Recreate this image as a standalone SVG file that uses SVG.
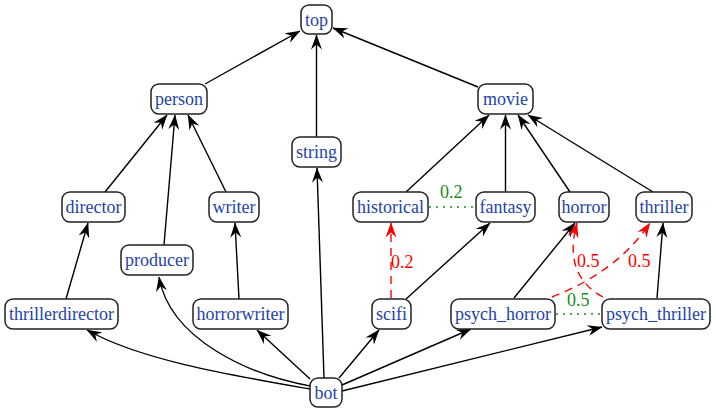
<svg xmlns="http://www.w3.org/2000/svg" width="716" height="413" viewBox="0 0 716 413">
<defs>
<style>
.n rect{fill:#fff;stroke:#222;stroke-width:1.5}
.n text{font-family:"Liberation Serif","Times New Roman",serif;font-size:18px;fill:#1f44a6;text-anchor:middle}
.e{fill:none;stroke:#000;stroke-width:1.4}
.r{fill:none;stroke:#ff0000;stroke-width:1.4;stroke-dasharray:8,6}
.g{fill:none;stroke:#228b22;stroke-width:1.4;stroke-dasharray:2,5}
.lr{font-family:"Liberation Serif","Times New Roman",serif;font-size:18px;fill:#ff0000}
.lg{font-family:"Liberation Serif","Times New Roman",serif;font-size:18px;fill:#228b22}
</style>
<marker id="a" markerUnits="userSpaceOnUse" viewBox="0 0 15 12" markerWidth="15" markerHeight="12" refX="14.5" refY="6" orient="auto"><path d="M15,6 L0,0.5 L5,6 L0,11.5 Z" fill="#000"/></marker>
<marker id="ar" markerUnits="userSpaceOnUse" viewBox="0 0 15 12" markerWidth="15" markerHeight="12" refX="14.5" refY="6" orient="auto"><path d="M15,6 L0,0.5 L5,6 L0,11.5 Z" fill="#ff0000"/></marker>
</defs>
<rect width="716" height="413" fill="#fff"/>
<g id="edges">
<path class="e" marker-end="url(#a)" d="M205,84 L300,31"/>
<path class="e" marker-end="url(#a)" d="M316.5,137 L316.5,35"/>
<path class="e" marker-end="url(#a)" d="M478,87 L333,28"/>
<path class="e" marker-end="url(#a)" d="M105,192 L167,115"/>
<path class="e" marker-end="url(#a)" d="M164,245 L175,115"/>
<path class="e" marker-end="url(#a)" d="M226,192 L188,115"/>
<path class="e" marker-end="url(#a)" d="M66,299 L88,223"/>
<path class="e" marker-end="url(#a)" d="M239,299 L235,223"/>
<path class="e" marker-end="url(#a)" d="M324,378 L317,168"/>
<path class="e" marker-end="url(#a)" d="M310,389 C230,375 140,360 87,330"/>
<path class="e" marker-end="url(#a)" d="M310,386 C250,375 170,340 159,277"/>
<path class="e" marker-end="url(#a)" d="M310,379 L257,330"/>
<path class="e" marker-end="url(#a)" d="M339,378 L379,330"/>
<path class="e" marker-end="url(#a)" d="M342,385 L471,329"/>
<path class="e" marker-end="url(#a)" d="M342,391 L602,327"/>
<path class="e" marker-end="url(#a)" d="M406,299 L490,223"/>
<path class="e" marker-end="url(#a)" d="M406,192 L489,115"/>
<path class="e" marker-end="url(#a)" d="M505.5,192 L505.5,115"/>
<path class="e" marker-end="url(#a)" d="M570,192 L518,115"/>
<path class="e" marker-end="url(#a)" d="M653,192 L528,115"/>
<path class="e" marker-end="url(#a)" d="M514,298 L575,223"/>
<path class="e" marker-end="url(#a)" d="M657,298 L663,223"/>
<path class="r" marker-end="url(#ar)" d="M391,298 L391,223"/>
<path class="r" marker-end="url(#ar)" d="M603,297 C580,285 566,262 577,223"/>
<path class="r" marker-end="url(#ar)" d="M552,297 C590,282 625,260 650,223"/>
<path class="g" d="M429,207 L476,207"/>
<path class="g" d="M556,314 L602,314"/>
<text class="lr" x="391" y="268">0.2</text>
<text class="lg" x="440" y="198">0.2</text>
<text class="lr" x="577" y="267">0.5</text>
<text class="lr" x="628" y="267">0.5</text>
<text class="lg" x="567" y="306">0.5</text>
</g>
<g id="top" class="n"><rect x="301" y="5" width="31" height="29" rx="8"/><text x="316.5" y="25.5">top</text></g>
<g id="person" class="n"><rect x="151" y="84" width="56" height="30" rx="8"/><text x="179" y="105">person</text></g>
<g id="string" class="n"><rect x="292" y="137" width="49" height="30" rx="8"/><text x="316.5" y="158">string</text></g>
<g id="movie" class="n"><rect x="478" y="84" width="55" height="30" rx="8"/><text x="505.5" y="105">movie</text></g>
<g id="director" class="n"><rect x="62" y="192" width="63" height="30" rx="8"/><text x="93.5" y="213">director</text></g>
<g id="producer" class="n"><rect x="121" y="245" width="72" height="30" rx="8"/><text x="157" y="266">producer</text></g>
<g id="writer" class="n"><rect x="209" y="192" width="50" height="30" rx="8"/><text x="234" y="213">writer</text></g>
<g id="historical" class="n"><rect x="353" y="192" width="75" height="30" rx="8"/><text x="390.5" y="213">historical</text></g>
<g id="fantasy" class="n"><rect x="476" y="192" width="59" height="30" rx="8"/><text x="505.5" y="213">fantasy</text></g>
<g id="horror" class="n"><rect x="559" y="192" width="50" height="30" rx="8"/><text x="584" y="213">horror</text></g>
<g id="thriller" class="n"><rect x="636" y="192" width="56" height="30" rx="8"/><text x="664" y="213">thriller</text></g>
<g id="thrillerdirector" class="n"><rect x="5" y="299" width="113" height="30" rx="8"/><text x="61.5" y="320">thrillerdirector</text></g>
<g id="horrorwriter" class="n"><rect x="193" y="299" width="95" height="30" rx="8"/><text x="240.5" y="320">horrorwriter</text></g>
<g id="scifi" class="n"><rect x="372" y="299" width="39" height="30" rx="8"/><text x="391.5" y="320">scifi</text></g>
<g id="psych_horror" class="n"><rect x="451" y="299" width="104" height="30" rx="8"/><text x="503" y="320">psych_horror</text></g>
<g id="psych_thriller" class="n"><rect x="602" y="299" width="108" height="30" rx="8"/><text x="656" y="320">psych_thriller</text></g>
<g id="bot" class="n"><rect x="310" y="378" width="32" height="29" rx="8"/><text x="326" y="398.5">bot</text></g>
</svg>
